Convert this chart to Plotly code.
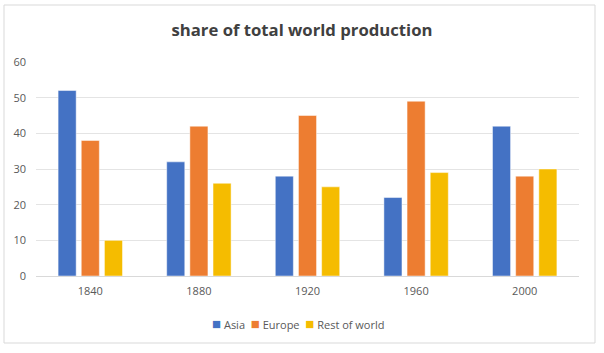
import plotly.graph_objects as go

years = ["1840", "1880", "1920", "1960", "2000"]
asia = [52, 32, 28, 22, 42]
europe = [38, 42, 45, 49, 28]
rest = [10, 26, 25, 29, 30]
y_ticks = [0, 10, 20, 30, 40, 50, 60]
series = [("Asia", asia, "#4472C4"), ("Europe", europe, "#ED7D31"), ("Rest of world", rest, "#F5BC00")]

W, H = 604, 353
L, R, T, B = 36, 25, 62, 77
pw, ph = W - L - R, H - T - B

fig = go.Figure()
for name, vals, col in series:
    fig.add_trace(go.Bar(x=years, y=vals, name=name, showlegend=False,
                         marker=dict(color=col, line=dict(color="rgba(255,255,255,0.6)", width=0.8))))

legend_text = "&nbsp;&nbsp;".join(
    f"<span style='color:{col};font-size:15px'>■</span> {name}" for name, _, col in series
)

fig.update_layout(
    width=W, height=H,
    margin=dict(l=L, r=R, t=T, b=B),
    paper_bgcolor="white", plot_bgcolor="white",
    barmode="group", bargap=0.36, bargroupgap=0.22,
    font=dict(family="Open Sans", color="#595959", size=11),
    title=dict(text="<b>share of total world production</b>", x=0.5, xanchor="center",
               y=1 - 30 / H, yanchor="middle", yref="container",
               font=dict(family="Open Sans", size=16.7, color="#404040")),
    xaxis=dict(showgrid=False, showline=False, ticks="", ticklabelstandoff=7,
               tickfont=dict(size=11, color="#595959")),
    yaxis=dict(range=[0, 60], tickvals=y_ticks, showgrid=True, gridcolor="#E4E4E4", gridwidth=1,
               zeroline=True, zerolinecolor="#D9D9D9", zerolinewidth=1, showline=False, ticks="",
               ticklabelstandoff=9, tickfont=dict(size=11, color="#595959")),
    annotations=[dict(text=legend_text, xref="paper", yref="paper", x=(298 - L) / pw,
                      y=(276 - 323) / ph, xanchor="center", yanchor="middle", showarrow=False,
                      font=dict(size=11, color="#595959"))],
    shapes=[dict(type="rect", xref="paper", yref="paper",
                 x0=(4 - L) / pw, x1=(595 - L) / pw, y0=(276 - 343) / ph, y1=(276 - 5) / ph,
                 line=dict(color="#D9D9D9", width=1), fillcolor="rgba(0,0,0,0)", layer="below")],
)

fig.write_html("out.html")
